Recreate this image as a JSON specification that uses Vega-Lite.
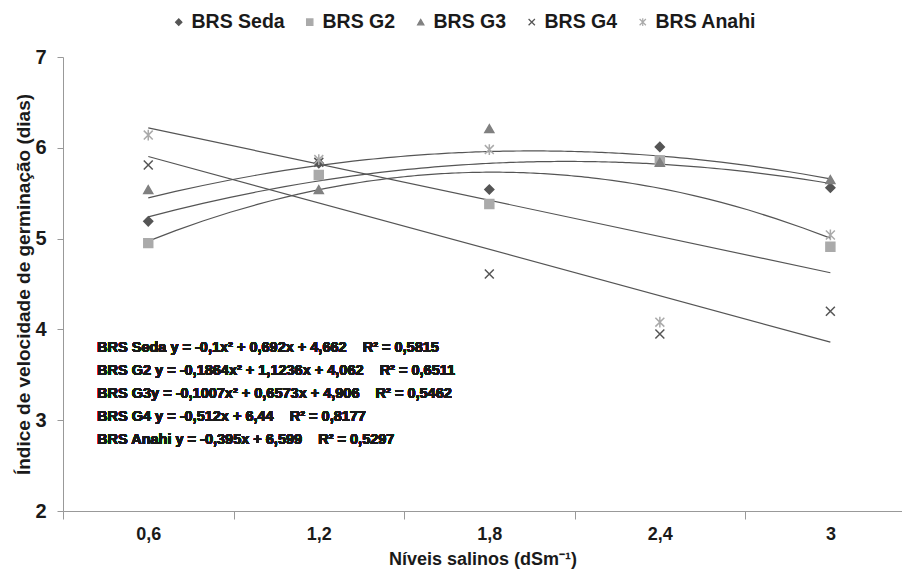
{
  "$schema": "https://vega.github.io/schema/vega-lite/v6.json",
  "width": 839,
  "height": 454,
  "autosize": {"type": "none"},
  "padding": {"left": 63, "top": 57, "right": 0, "bottom": 61},
  "background": "white",
  "config": {
    "view": {"stroke": null},
    "font": "Liberation Sans",
    "legend": {
      "orient": "none",
      "legendX": 106,
      "legendY": -45,
      "direction": "horizontal",
      "columns": 5,
      "labelFont": "Liberation Sans",
      "labelFontSize": 19.5,
      "labelFontWeight": "bold",
      "labelColor": "#1a1a1a",
      "symbolSize": 40,
      "symbolStrokeWidth": 1.2,
      "columnPadding": 15,
      "labelOffset": 3
    }
  },
  "data": {
    "values": [
      {"serie": "BRS Seda", "nivel": 0.6, "ivg": 5.19},
      {"serie": "BRS Seda", "nivel": 1.2, "ivg": 5.83},
      {"serie": "BRS Seda", "nivel": 1.8, "ivg": 5.54},
      {"serie": "BRS Seda", "nivel": 2.4, "ivg": 6.01},
      {"serie": "BRS Seda", "nivel": 3.0, "ivg": 5.56},
      {"serie": "BRS G2", "nivel": 0.6, "ivg": 4.95},
      {"serie": "BRS G2", "nivel": 1.2, "ivg": 5.70},
      {"serie": "BRS G2", "nivel": 1.8, "ivg": 5.38},
      {"serie": "BRS G2", "nivel": 2.4, "ivg": 5.86},
      {"serie": "BRS G2", "nivel": 3.0, "ivg": 4.91},
      {"serie": "BRS G3", "nivel": 0.6, "ivg": 5.54},
      {"serie": "BRS G3", "nivel": 1.2, "ivg": 5.54},
      {"serie": "BRS G3", "nivel": 1.8, "ivg": 6.21},
      {"serie": "BRS G3", "nivel": 2.4, "ivg": 5.84},
      {"serie": "BRS G3", "nivel": 3.0, "ivg": 5.65},
      {"serie": "BRS G4", "nivel": 0.6, "ivg": 5.81},
      {"serie": "BRS G4", "nivel": 1.2, "ivg": 5.84},
      {"serie": "BRS G4", "nivel": 1.8, "ivg": 4.61},
      {"serie": "BRS G4", "nivel": 2.4, "ivg": 3.95},
      {"serie": "BRS G4", "nivel": 3.0, "ivg": 4.20},
      {"serie": "BRS Anahi", "nivel": 0.6, "ivg": 6.14},
      {"serie": "BRS Anahi", "nivel": 1.2, "ivg": 5.87},
      {"serie": "BRS Anahi", "nivel": 1.8, "ivg": 5.98},
      {"serie": "BRS Anahi", "nivel": 2.4, "ivg": 4.08},
      {"serie": "BRS Anahi", "nivel": 3.0, "ivg": 5.04}
    ]
  },
  "layer": [
    {
      "transform": [
        {"filter": "indexof(['BRS Seda','BRS G2','BRS G3'], datum.serie) >= 0"},
        {"regression": "ivg", "on": "nivel", "groupby": ["serie"], "method": "poly", "order": 2, "extent": [0.6, 3.0]}
      ],
      "mark": {"type": "line", "color": "#555555", "strokeWidth": 1.2},
      "encoding": {
        "x": {"field": "nivel", "type": "quantitative"},
        "y": {"field": "ivg", "type": "quantitative"},
        "detail": {"field": "serie"}
      }
    },
    {
      "transform": [
        {"filter": "indexof(['BRS G4','BRS Anahi'], datum.serie) >= 0"},
        {"regression": "ivg", "on": "nivel", "groupby": ["serie"], "method": "linear", "extent": [0.6, 3.0]}
      ],
      "mark": {"type": "line", "color": "#555555", "strokeWidth": 1.2},
      "encoding": {
        "x": {"field": "nivel", "type": "quantitative"},
        "y": {"field": "ivg", "type": "quantitative"},
        "detail": {"field": "serie"}
      }
    },
    {
      "mark": {"type": "point", "filled": true, "strokeWidth": 1.5, "opacity": 1, "size": 80},
      "encoding": {
        "x": {
          "field": "nivel",
          "type": "quantitative",
          "scale": {"domain": [0.3, 3.252], "nice": false, "zero": false},
          "axis": {
            "values": [0.3, 0.6, 0.9, 1.2, 1.5, 1.8, 2.1, 2.4, 2.7, 3.0],
            "labelExpr": "round(datum.value*10) % 6 == 0 ? replace(format(datum.value, '.1~f'), '.', ',') : ''",
            "tickOpacity": {"condition": {"test": "round(datum.value*10) % 6 == 0", "value": 0}, "value": 1},
            "tickSize": 8,
            "tickColor": "#999999",
            "domainColor": "#999999",
            "grid": false,
            "labelFont": "Liberation Sans Narrow, Liberation Sans",
            "labelFontSize": 18,
            "labelFontWeight": "bold",
            "labelColor": "#1a1a1a",
            "labelPadding": 6,
            "labelFlush": false,
            "labelOverlap": false,
            "title": "Níveis salinos (dSm⁻¹)",
            "titleFont": "Liberation Sans Narrow, Liberation Sans",
            "titleFontSize": 18,
            "titleFontWeight": "bold",
            "titleColor": "#1a1a1a",
            "titlePadding": 7
          }
        },
        "y": {
          "field": "ivg",
          "type": "quantitative",
          "scale": {"domain": [2, 7], "nice": false, "zero": false},
          "axis": {
            "values": [2, 3, 4, 5, 6, 7],
            "format": "d",
            "tickSize": 6,
            "tickColor": "#999999",
            "domainColor": "#999999",
            "grid": false,
            "labelFontSize": 20,
            "labelFontWeight": "bold",
            "labelColor": "#1a1a1a",
            "labelPadding": 11,
            "title": "Índice de velocidade de germinação (dias)",
            "titleFontSize": 19,
            "titleFontWeight": "bold",
            "titleColor": "#1a1a1a",
            "titlePadding": 1
          }
        },
        "fill": {
          "field": "serie",
          "type": "nominal",
          "scale": {
            "domain": ["BRS Seda", "BRS G2", "BRS G3", "BRS G4", "BRS Anahi"],
            "range": ["#555555", "#aaaaaa", "#808080", "#555555", "#aaaaaa"]
          },
          "legend": {"title": null}
        },
        "stroke": {
          "field": "serie",
          "type": "nominal",
          "scale": {
            "domain": ["BRS Seda", "BRS G2", "BRS G3", "BRS G4", "BRS Anahi"],
            "range": ["#555555", "#aaaaaa", "#808080", "#555555", "#aaaaaa"]
          },
          "legend": {"title": null}
        },
        "shape": {
          "field": "serie",
          "type": "nominal",
          "scale": {
            "domain": ["BRS Seda", "BRS G2", "BRS G3", "BRS G4", "BRS Anahi"],
            "range": ["diamond", "square", "triangle-up", "M-1,-1L1,1M-1,1L1,-1", "M-1,-1L1,1M-1,1L1,-1M0,-1.2L0,1.2"]
          },
          "legend": {"title": null}
        }
      }
    },
    {
      "mark": {
        "type": "text",
        "text": [
          "BRS Seda y = -0,1x² + 0,692x + 4,662 \u00a0\u00a0\u00a0R² = 0,5815",
          "BRS G2 y = -0,1864x² + 1,1236x + 4,062 \u00a0\u00a0\u00a0R² = 0,6511",
          "BRS G3y = -0,1007x² + 0,6573x + 4,906 \u00a0\u00a0\u00a0R² = 0,5462",
          "BRS G4 y = -0,512x + 6,44 \u00a0\u00a0\u00a0R² = 0,8177",
          "BRS Anahi y = -0,395x + 6,599 \u00a0\u00a0\u00a0R² = 0,5297"
        ],
        "align": "left",
        "baseline": "middle",
        "fontSize": 14.5,
        "fontWeight": "bold",
        "lineHeight": 23,
        "color": "#1a1a1a",
        "font": "Liberation Sans"
      },
      "encoding": {
        "x": {"datum": 0.42, "type": "quantitative"},
        "y": {"datum": 3.795, "type": "quantitative"}
      }
    }
  ]
}
